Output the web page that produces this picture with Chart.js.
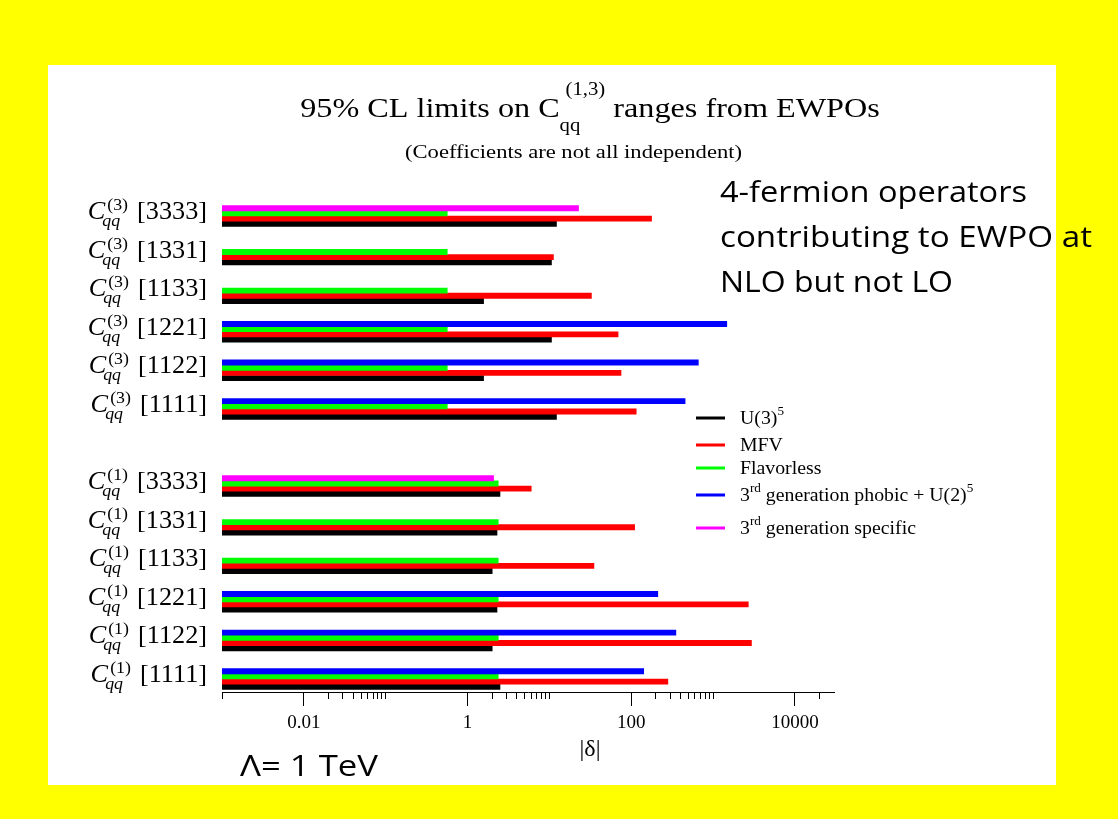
<!DOCTYPE html>
<html><head><meta charset="utf-8">
<script src="https://cdn.jsdelivr.net/npm/chart.js@4.4.1/dist/chart.umd.min.js"></script>
<style>
html,body{margin:0;padding:0;background:#ffff00;width:1118px;height:819px;overflow:hidden}
#panel{position:absolute;left:48px;top:65px;width:1008px;height:720px;background:#fff}
#c{position:absolute;left:0;top:0}
</style></head><body>
<div id="panel"></div>
<canvas id="c" width="1118" height="819"></canvas>
<script>
// ---- data ----
const rowSuperscripts = ['(3)','(3)','(3)','(3)','(3)','(3)','','(1)','(1)','(1)','(1)','(1)','(1)'];
const rowIndices = ['3333','1331','1133','1221','1122','1111','','3333','1331','1133','1221','1122','1111'];
const u3Values        = [12.2, 10.6, 1.57, 10.6, 1.57, 12.2, null, 2.49, 2.29, 2.0, 2.29, 2.0, 2.49];
const mfvValues       = [177, 11.2, 32.6, 69, 75, 115, null, 6.0, 110, 35, 2690, 2940, 280];
const flavorlessValues= [0.565,0.565,0.565,0.565,0.565,0.565, null, 2.37,2.37,2.37,2.37,2.37,2.37];
const phobicValues    = [null, null, null, 1470, 660, 455, null, null, null, null, 211, 351, 142];
const specificValues  = [22.7, null, null, null, null, null, null, 2.08, null, null, null, null, null];
const seriesLabels = ['U(3)^5', 'MFV', 'Flavorless', '3^rd generation phobic + U(2)^5', '3^rd generation specific'];
const seriesColors = ['#000000', '#ff0000', '#00ff00', '#0000ff', '#ff00ff'];
const xTickValues = [0.001,0.01,0.02,0.03,0.04,0.05,0.06,0.07,0.08,0.09,0.1,1,2,3,4,5,6,7,8,9,10,100,200,300,400,500,600,700,800,900,1000,10000,20000];
const xMajorValues = [0.01, 1, 100, 10000];
const xMajorLabels = ['0.01', '1', '100', '10000'];

// ---- helpers ----
const SERIF = '"Liberation Serif", "Times New Roman", serif';
const SANS = '"Open Sans", Lato, sans-serif';
function tw(ctx, font, t) { ctx.font = font; return ctx.measureText(t).width; }
function put(ctx, font, t, x, y, sx) {
  ctx.save(); ctx.font = font; ctx.translate(x, y); ctx.scale(sx, 1);
  ctx.textAlign = 'left'; ctx.textBaseline = 'alphabetic'; ctx.fillText(t, 0, 0); ctx.restore();
}
function fitText(ctx, font, t, x, y, width) {
  put(ctx, font, t, x, y, width / tw(ctx, font, t));
}
function toPoints(arr) {
  return arr.map((v, i) => v == null ? null : { x: v, y: i }).filter(p => p);
}
function drawOpLabel(ctx, sup, idx, xr, yc) {
  const SX = 1.05;
  const fM = '25px ' + SERIF, fMi = 'italic 25px ' + SERIF;
  const fS = '17px ' + SERIF, fSi = 'italic 17px ' + SERIF;
  const br = '[' + idx + ']';
  const wBr = tw(ctx, fM, br) * SX, wSup = tw(ctx, fS, sup) * SX, wC = tw(ctx, fMi, 'C') * SX;
  const xBr = xr - wBr, xSup = xBr - 9 - wSup, xC = xSup - 2 - wC, xSub = xC + wC - 3;
  put(ctx, fMi, 'C', xC, yc + 3, SX);
  put(ctx, fS, sup, xSup, yc - 6, SX);
  put(ctx, fSi, 'qq', xSub, yc + 10, SX);
  put(ctx, fM, br, xBr, yc + 3, SX);
}
function drawRich(ctx, label, x, y, size, supSize, rise, sx) {
  const parts = label.split(/\^(\w+)/);
  let cx = x;
  parts.forEach((p, k) => {
    if (!p) return;
    const sup = k % 2 === 1;
    const f = (sup ? supSize : size) + 'px ' + SERIF;
    put(ctx, f, p, cx, sup ? y - rise : y, sx);
    cx += tw(ctx, f, p) * sx;
  });
}

const annotations = {
  id: 'annotations',
  afterDraw(chart) {
    const ctx = chart.ctx, xs = chart.scales.x, ys = chart.scales.y;
    const axY = chart.chartArea.bottom;
    ctx.save();
    ctx.fillStyle = '#000'; ctx.strokeStyle = '#000'; ctx.lineWidth = 1;
    // longer major ticks
    xMajorValues.forEach(v => {
      const px = Math.round(xs.getPixelForValue(v) - 0.5) + 0.5;
      ctx.beginPath(); ctx.moveTo(px, axY); ctx.lineTo(px, axY + 14); ctx.stroke();
    });
    // row labels
    rowIndices.forEach((idx, i) => {
      if (!idx) return;
      drawOpLabel(ctx, rowSuperscripts[i], idx, 207, ys.getPixelForValue(i));
    });
    // axis title
    ctx.font = '24px ' + SERIF; ctx.textAlign = 'center';
    ctx.fillText('|\u03B4|', 590, 756);
    // legend
    const legendY = [418, 445, 468, 495, 528];
    seriesLabels.forEach((lab, i) => {
      ctx.fillStyle = seriesColors[i];
      ctx.fillRect(696, legendY[i] - 1.5, 29, 3);
      ctx.fillStyle = '#000';
      drawRich(ctx, lab, 740, legendY[i] + 6, 18, 12, 9, 1.1);
    });
    // title
    const SXT = 1.15;
    const fT = '28px ' + SERIF, fTs = '18px ' + SERIF;
    const t1 = '95% CL limits on C', t2 = ' ranges from EWPOs';
    const w1 = tw(ctx, fT, t1) * SXT, wSub = tw(ctx, fTs, 'qq') * SXT, wSup = tw(ctx, fTs, '(1,3)') * SXT;
    const w2 = tw(ctx, fT, t2) * SXT;
    const wMid = Math.max(wSub, wSup + 6);
    const total = w1 + wMid + w2;
    const tx = 590 - total / 2;
    put(ctx, fT, t1, tx, 117, SXT);
    put(ctx, fTs, 'qq', tx + w1, 131, SXT);
    put(ctx, fTs, '(1,3)', tx + w1 + 6, 95, SXT);
    put(ctx, fT, t2, tx + w1 + wMid, 117, SXT);
    // subtitle
    const fSub = '18px ' + SERIF, st = '(Coefficients are not all independent)';
    fitText(ctx, fSub, st, 405, 158, 337);
    // slide texts
    ctx.fillStyle = '#000';
    const fSans = '30px ' + SANS;
    fitText(ctx, fSans, '4-fermion operators', 720, 202, 307);
    fitText(ctx, fSans, 'contributing to EWPO at', 720, 247, 372);
    fitText(ctx, fSans, 'NLO but not LO', 720, 292, 233);
    fitText(ctx, fSans, '\u039B= 1 TeV', 240, 776, 138);
    ctx.restore();
  }
};

new Chart(document.getElementById('c'), {
  type: 'bar',
  data: {
    datasets: [
      { label: seriesLabels[3], data: toPoints(phobicValues), backgroundColor: seriesColors[3], stack: 'top' },
      { label: seriesLabels[4], data: toPoints(specificValues), backgroundColor: seriesColors[4], stack: 'top' },
      { label: seriesLabels[2], data: toPoints(flavorlessValues), backgroundColor: seriesColors[2], stack: 'flav' },
      { label: seriesLabels[1], data: toPoints(mfvValues), backgroundColor: seriesColors[1], stack: 'mfv' },
      { label: seriesLabels[0], data: toPoints(u3Values), backgroundColor: seriesColors[0], stack: 'u3' }
    ]
  },
  options: {
    indexAxis: 'y',
    responsive: false,
    animation: false,
    events: [],
    layout: { padding: { left: 222, right: 284, top: 190, bottom: 87 } },
    datasets: { bar: { barThickness: 5.2, borderWidth: 0 } },
    plugins: { legend: { display: false }, tooltip: { enabled: false } },
    scales: {
      x: {
        type: 'logarithmic', min: 0.001, max: 30000, stacked: false,
        afterBuildTicks: s => { s.ticks = xTickValues.map(v => ({ value: v, major: xMajorValues.includes(v) })); },
        afterFit: s => { s.height = 40; },
        ticks: {
          autoSkip: false, maxRotation: 0, minRotation: 0, padding: 13, color: '#000',
          font: { family: SERIF, size: 19 },
          callback: v => { const k = xMajorValues.indexOf(v); return k >= 0 ? xMajorLabels[k] : ''; }
        },
        grid: { drawOnChartArea: false, drawTicks: true, tickLength: 7, color: '#000', lineWidth: 1 },
        border: { display: true, color: '#000', width: 1 }
      },
      y: {
        type: 'linear', reverse: true, min: -0.674, max: 12.337, display: false,
        offset: false, grace: 0, bounds: 'data', grid: { offset: false }
      }
    }
  },
  plugins: [annotations]
});
</script>
</body></html>
